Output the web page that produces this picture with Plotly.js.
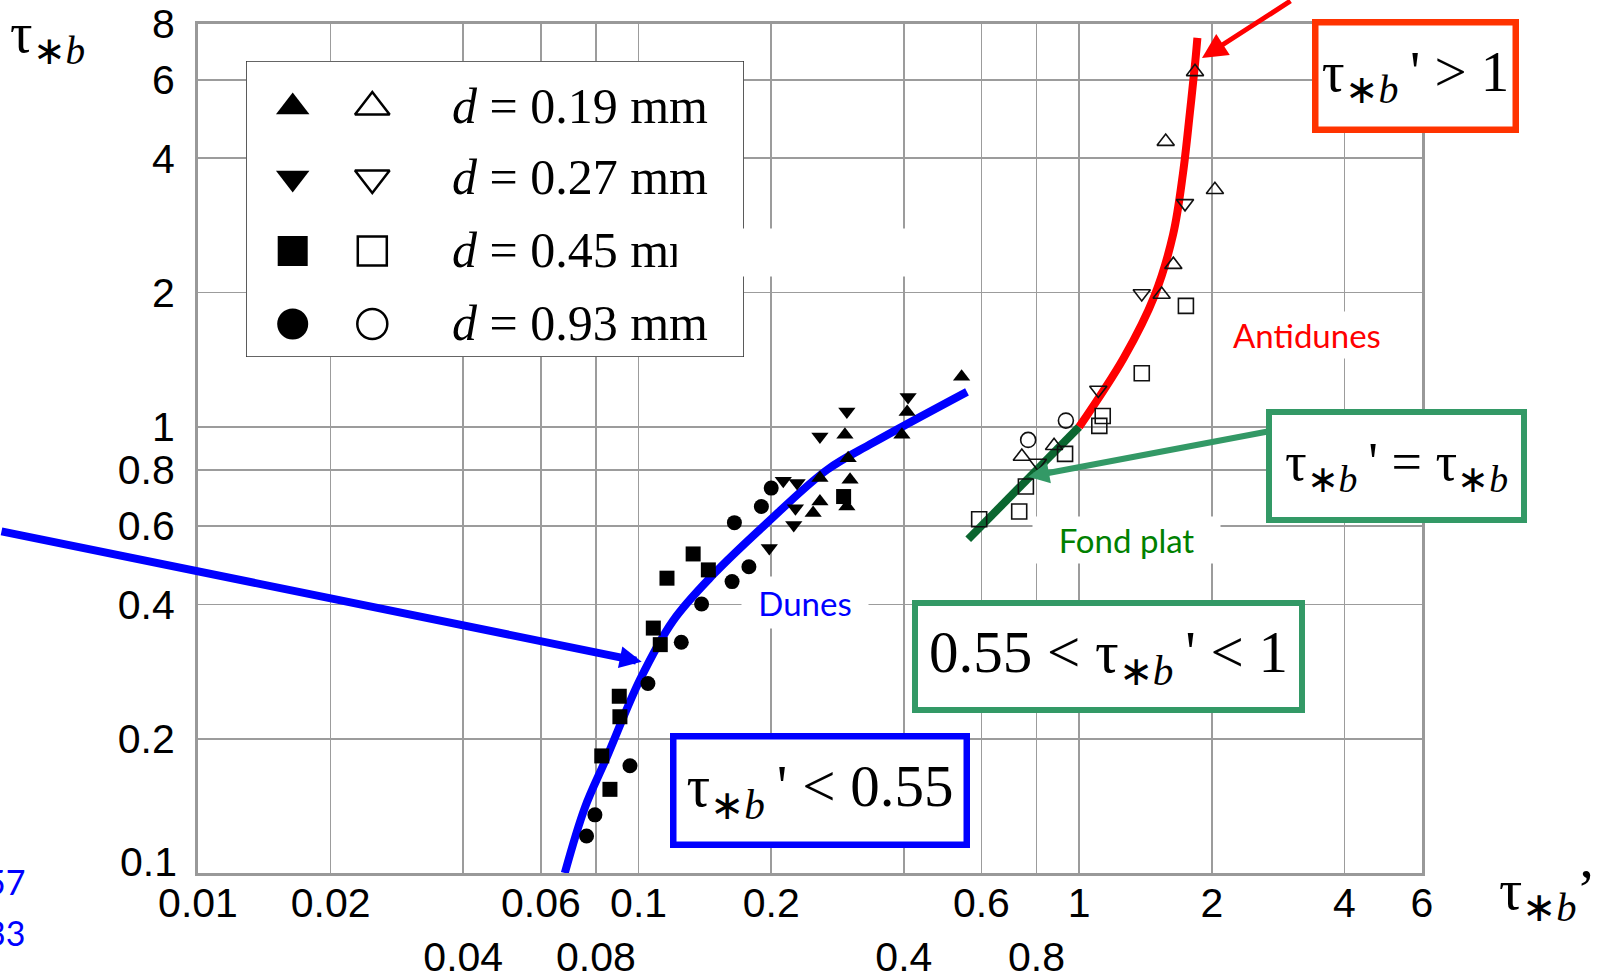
<!DOCTYPE html>
<html>
<head>
<meta charset="utf-8">
<script src="https://cdn.plot.ly/plotly-3.0.1.min.js"></script>
<style>
  html, body { margin: 0; padding: 0; background: #fff; }
  #chart { width: 1602px; height: 978px; }
</style>
</head>
<body>
<div id="chart"></div>
<script>
// Total bed shear stress τ*b against skin-friction shear stress τ*b'
// for four sand sizes, with the dune / flat bed / antidune regimes.

const grainLabels = ['d = 0.19 mm', 'd = 0.27 mm', 'd = 0.45 mm', 'd = 0.93 mm'];

// Dune regime (filled symbols)
const dune019X = [0.541, 0.407, 0.396, 0.294, 0.299, 0.302, 0.297, 0.258, 0.258, 0.249];
const dune019Y = [1.296, 1.080, 0.960, 0.960, 0.851, 0.761, 0.663, 0.768, 0.680, 0.641];
const dune027X = [0.409, 0.297, 0.258, 0.213, 0.229, 0.227, 0.225, 0.198];
const dune027Y = [1.167, 1.082, 0.951, 0.757, 0.749, 0.657, 0.603, 0.535];
const dune045X = [0.292, 0.133, 0.144, 0.116, 0.108, 0.112, 0.0904, 0.0907, 0.0825, 0.0861];
const dune045Y = [0.698, 0.519, 0.478, 0.458, 0.354, 0.325, 0.249, 0.224, 0.183, 0.154];
const dune093X = [0.200, 0.190, 0.165, 0.178, 0.163, 0.139, 0.125, 0.105, 0.0956, 0.0796, 0.0762];
const dune093Y = [0.729, 0.663, 0.610, 0.486, 0.450, 0.401, 0.329, 0.266, 0.174, 0.135, 0.121];

// Flat bed and antidunes (open symbols)
const upper019X = [1.832, 1.572, 2.033, 1.636, 1.539, 0.877, 0.741];
const upper019Y = [6.25, 4.36, 3.40, 2.31, 1.98, 0.907, 0.858];
const upper027X = [1.739, 1.387, 1.105, 0.806];
const upper027Y = [3.17, 1.99, 1.21, 0.830];
const upper045X = [1.747, 1.387, 1.131, 1.111, 0.929, 0.757, 0.731, 0.593];
const upper045Y = [1.867, 1.319, 1.058, 1.005, 0.870, 0.735, 0.646, 0.621];
const upper093X = [0.933, 0.766];
const upper093Y = [1.033, 0.935];

// Regime curves
const dunesCurveX = [0.068, 0.0755, 0.0848, 0.1007, 0.1197, 0.1475, 0.1956, 0.2677, 0.3404, 0.5564];
const dunesCurveY = [0.100, 0.140, 0.1823, 0.2711, 0.3675, 0.466, 0.609, 0.801, 0.921, 1.198];
const flatBedX = [0.56, 1.0];
const flatBedY = [0.56, 1.0];
const antidunesX = [1.0, 1.264, 1.482, 1.633, 1.720, 1.784, 1.835, 1.855];
const antidunesY = [1.0, 1.431, 1.966, 2.693, 3.694, 5.07, 6.60, 7.45];

// Axis ticks
const xTickVals = [0.01, 0.02, 0.04, 0.06, 0.08, 0.1, 0.2, 0.4, 0.6, 0.8, 1, 2, 4, 6];
const xTickText = ['0.01', '0.02', '<br>0.04', '0.06', '<br>0.08', '0.1', '0.2', '<br>0.4', '0.6', '<br>0.8', '1', '2', '4', '6'];
const yTickVals = [0.1, 0.2, 0.4, 0.6, 0.8, 1, 2, 4, 6, 8];
const yTickText = ['0.1', '0.2', '0.4', '0.6', '0.8', '1', '2', '4', '6', '8'];

// ---- page geometry helpers (pixel -> paper) ----
const FIG_W = 1602, FIG_H = 978;
const M = { l: 198, r: 180, t: 24, b: 105 };
const PW = FIG_W - M.l - M.r, PH = FIG_H - M.t - M.b;
const px = x => (x - M.l) / PW;
const py = y => (FIG_H - M.b - y) / PH;

const SERIF = 'Liberation Serif, Times New Roman, serif';
const SANS = 'Liberation Sans, Arial, sans-serif';
const LABEL = 'Lato, Carlito, Calibri, sans-serif';
const TAU_B = 'τ<sub>∗<i>b</i></sub>';
const PRIME = '\u2009\'';

const symbolsFilled = ['triangle-up', 'triangle-down', 'square', 'circle'];
const symbolsOpen = ['triangle-up-open', 'triangle-down-open', 'square-open', 'circle-open'];

function pts(x, y, i, filled) {
  return {
    type: 'scatter', mode: 'markers', x: x, y: y, name: grainLabels[i],
    showlegend: false, hoverinfo: 'skip', cliponaxis: false,
    marker: filled
      ? { symbol: symbolsFilled[i], size: 15, color: '#000', opacity: 1, line: { width: 0 } }
      : { symbol: symbolsOpen[i], size: 15, color: '#111', opacity: 1, line: { width: 1.6, color: '#111' } }
  };
}

function curve(x, y, color) {
  return {
    type: 'scatter', mode: 'lines', x: x, y: y, showlegend: false, hoverinfo: 'skip',
    line: { color: color, width: 8, shape: 'spline', smoothing: 1 }
  };
}

// Key box on its own small axes so it sits above the main grid
const KEY = { x0: 246, x1: 744, y0: 61, y1: 357 };
const keyRows = [107, 178, 251, 324];
const keyCols = [292.7, 372.3];

const keyBox = {
  type: 'scatter', mode: 'lines', xaxis: 'x2', yaxis: 'y2', hoverinfo: 'skip', showlegend: false,
  x: [KEY.x0, KEY.x1, KEY.x1, KEY.x0, KEY.x0],
  y: [KEY.y0, KEY.y0, KEY.y1, KEY.y1, KEY.y0],
  fill: 'toself', fillcolor: '#ffffff', line: { color: '#333', width: 1.6 }
};
const keyMarks = {
  type: 'scatter', mode: 'markers', xaxis: 'x2', yaxis: 'y2', hoverinfo: 'skip', showlegend: false,
  x: keyRows.flatMap(() => keyCols),
  y: keyRows.flatMap(r => [r, r]),
  marker: {
    symbol: symbolsFilled.flatMap((s, i) => [s, symbolsOpen[i]]),
    size: [29, 30, 29, 30, 30, 29, 31, 30],
    color: '#000', opacity: 1,
    line: { color: '#000', width: [0, 2.5, 0, 2.5, 0, 2.5, 0, 2.5] }
  }
};

// empty trace that carries the extra y axis holding the lowest tick label
const bottomLabelCarrier = {
  type: 'scatter', mode: 'markers', x: [null], y: [null], yaxis: 'y3',
  showlegend: false, hoverinfo: 'skip'
};

const data = [
  curve(dunesCurveX, dunesCurveY, '#0000ff'),
  curve(flatBedX, flatBedY, '#0b6630'),
  curve(antidunesX, antidunesY, '#ff0000'),
  pts(dune019X, dune019Y, 0, true),
  pts(dune027X, dune027Y, 1, true),
  pts(dune045X, dune045Y, 2, true),
  pts(dune093X, dune093Y, 3, true),
  pts(upper019X, upper019Y, 0, false),
  pts(upper027X, upper027Y, 1, false),
  pts(upper045X, upper045Y, 2, false),
  pts(upper093X, upper093Y, 3, false),
  bottomLabelCarrier,
  keyBox, keyMarks
];

function boxed(text, cx, cy, w, h, color, size, bw) {
  return {
    xref: 'paper', yref: 'paper', x: px(cx), y: py(cy), xanchor: 'center', yanchor: 'middle',
    text: text, showarrow: false, width: w - 2 * bw, height: h - 2 * bw,
    bgcolor: '#fff', bordercolor: color, borderwidth: bw, borderpad: 0,
    font: { family: SERIF, size: size, color: '#000' }
  };
}

function tag(text, cx, cy, w, h, color) {
  return {
    xref: 'paper', yref: 'paper', x: px(cx), y: py(cy), xanchor: 'center', yanchor: 'middle',
    text: text, showarrow: false, width: w, height: h, bgcolor: '#fff', borderpad: 0,
    font: { family: LABEL, size: 33, color: color }
  };
}

function arrow(tipX, tipY, tailX, tailY, color, width, size) {
  return {
    xref: 'paper', yref: 'paper', x: px(tipX), y: py(tipY), text: '',
    showarrow: true, ax: tailX - tipX, ay: tailY - tipY, axref: 'pixel', ayref: 'pixel',
    arrowhead: 2, arrowsize: size, arrowwidth: width, arrowcolor: color, standoff: 0
  };
}

const annotations = [
  // axis titles
  { xref: 'paper', yref: 'paper', x: px(8), y: py(0), xanchor: 'left', yanchor: 'top',
    text: TAU_B, showarrow: false, font: { family: SERIF, size: 56, color: '#000' } },
  { xref: 'paper', yref: 'paper', x: px(1497), y: py(893), xanchor: 'left', yanchor: 'middle',
    text: TAU_B + '’', showarrow: false, font: { family: SERIF, size: 58, color: '#000' } },
  // key texts
  ...grainLabels.map((g, i) => ({
    xref: 'paper', yref: 'paper', x: px(450), y: py(keyRows[i] - 1), xanchor: 'left', yanchor: 'middle',
    text: '<i>d</i> = ' + g.slice(4), showarrow: false, font: { family: SERIF, size: 50, color: '#000' }
  })),
  // blank strip across the key
  { xref: 'paper', yref: 'paper', x: px(811), y: py(252.5), xanchor: 'center', yanchor: 'middle',
    text: ' ', showarrow: false, width: 268, height: 47, bgcolor: '#fff', borderpad: 0 },
  // regime names
  tag('Dunes', 805, 602.5, 126, 51, '#0000ff'),
  tag('Fond plat', 1126.5, 540, 187, 46, '#008000'),
  tag('Antidunes', 1307, 335, 170, 46, '#ff0000'),
  // regime criteria
  boxed(TAU_B + PRIME + ' &gt; 1', 1415.5, 76, 207, 114, '#ff3300', 57, 6.5),
  boxed(TAU_B + PRIME + ' = ' + TAU_B, 1396.5, 466, 261, 114, '#339966', 54, 6),
  boxed('0.55 &lt; ' + TAU_B + PRIME + ' &lt; 1', 1108.5, 656.5, 393, 113, '#339966', 59, 6),
  boxed(TAU_B + PRIME + ' &lt; 0.55', 820, 790.5, 300, 115, '#0000ff', 59, 6.5),
  // pointers
  arrow(641.7, 661.7, -12, 531, '#0000ff', 8, 0.55),
  arrow(1202, 58, 1292, -9, '#ff0000', 5, 1.0),
  arrow(1028.3, 476.7, 1268, 431.5, '#339966', 6, 0.7),
  // clipped side notes
  { xref: 'paper', yref: 'paper', x: px(27), y: py(881), xanchor: 'right', yanchor: 'middle',
    text: '57', showarrow: false, font: { family: LABEL, size: 34, color: '#0000ff' } },
  { xref: 'paper', yref: 'paper', x: px(27), y: py(932), xanchor: 'right', yanchor: 'middle',
    text: '33', showarrow: false, font: { family: LABEL, size: 34, color: '#0000ff' } }
];

const gridColor = '#9c9c9c';
const tickFont = { family: SANS, size: 41, color: '#000' };
const yRange = [Math.log10(0.1), Math.log10(8)];
const layout = {
  width: FIG_W, height: FIG_H,
  margin: M,
  paper_bgcolor: '#fff', plot_bgcolor: '#fff',
  showlegend: false,
  xaxis: {
    type: 'log', range: [Math.log10(0.01), Math.log10(6)], autorange: false,
    tickmode: 'array', tickvals: xTickVals, ticktext: xTickText, tickangle: 0,
    ticks: '', ticklabelstandoff: -8, tickfont: tickFont,
    showgrid: true, gridcolor: gridColor, gridwidth: 1.6, zeroline: false,
    showline: true, mirror: true, linecolor: '#999', linewidth: 3, fixedrange: true
  },
  yaxis: {
    type: 'log', range: yRange, autorange: false,
    tickmode: 'array', tickvals: yTickVals.slice(1), ticktext: yTickText.slice(1),
    ticks: '', ticklabelstandoff: 12, tickfont: tickFont,
    showgrid: true, gridcolor: gridColor, gridwidth: 1.6, zeroline: false,
    showline: true, mirror: true, linecolor: '#999', linewidth: 3, fixedrange: true
  },
  // lowest y label, lifted clear of the x labels
  yaxis3: {
    type: 'log', range: yRange, autorange: false, overlaying: 'y', anchor: 'x', side: 'left',
    tickmode: 'array', tickvals: yTickVals.slice(0, 1), ticktext: yTickText.slice(0, 1),
    ticks: '', ticklabelstandoff: 20, ticklabelshift: -11, tickfont: tickFont,
    showgrid: false, zeroline: false, showline: false, fixedrange: true
  },
  xaxis2: {
    domain: [px(KEY.x0), px(KEY.x1)], range: [KEY.x0, KEY.x1], autorange: false,
    anchor: 'y2', visible: false, fixedrange: true
  },
  yaxis2: {
    domain: [py(KEY.y1), py(KEY.y0)], range: [KEY.y1, KEY.y0], autorange: false,
    anchor: 'x2', visible: false, fixedrange: true
  },
  annotations: annotations
};

Plotly.newPlot('chart', data, layout, { displayModeBar: false, staticPlot: true });
</script>
</body>
</html>
